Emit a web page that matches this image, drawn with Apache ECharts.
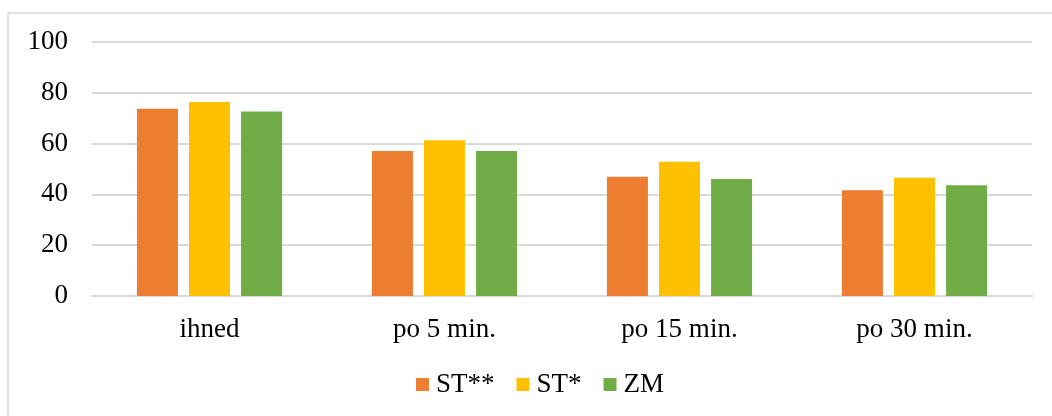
<!DOCTYPE html>
<html>
<head>
<meta charset="utf-8">
<script src="https://cdn.jsdelivr.net/npm/echarts@6/dist/echarts.min.js"></script>
<style>html,body{margin:0;padding:0;background:#fff;}#c{width:1052px;height:416px;}</style>
</head>
<body>
<div id="c"></div>
<script>
const categories = ['ihned', 'po 5 min.', 'po 15 min.', 'po 30 min.'];
const seriesNames = ['ST**', 'ST*', 'ZM'];
const st2 = [73.7, 57.1, 46.9, 41.6];
const st1 = [76.4, 61.3, 52.9, 46.6];
const zm = [72.6, 57.1, 46.1, 43.6];
const yTicks = [0, 20, 40, 60, 80, 100];
const colors = ['#ED7D31', '#FFC000', '#70AD47'];

const font = '"Liberation Serif", "Times New Roman", serif';
const chart = echarts.init(document.getElementById('c'), null, {renderer: 'canvas'});
const values = [st2, st1, zm];
chart.setOption({
  animation: false,
  backgroundColor: '#fff',
  color: colors,
  grid: {left: 92, right: 20, top: 42, bottom: 120},
  legend: {
    data: seriesNames,
    bottom: 13,
    left: 411,
    itemWidth: 13, itemHeight: 13, itemGap: 22,
    icon: 'rect',
    textStyle: {fontFamily: font, fontSize: 27, color: '#000', padding: [0, 0, 0, 2]}
  },
  xAxis: {
    type: 'category',
    data: categories,
    axisLine: {show: true, lineStyle: {color: '#d9d9d9', width: 2}},
    axisTick: {show: false},
    axisLabel: {fontFamily: font, fontSize: 27, color: '#000', margin: 20}
  },
  yAxis: {
    type: 'value',
    min: yTicks[0], max: yTicks[yTicks.length - 1], interval: 20,
    axisLine: {show: false},
    axisTick: {show: false},
    splitLine: {lineStyle: {color: '#d9d9d9', width: 2}},
    axisLabel: {fontFamily: font, fontSize: 27, color: '#000', margin: 24}
  },
  series: seriesNames.map((n, i) => ({
    name: n,
    type: 'bar',
    data: values[i],
    barWidth: 41,
    barGap: '27%',
    itemStyle: {color: colors[i]}
  })),
  graphic: [
    {type: 'line', shape: {x1: 8, y1: 13, x2: 1052, y2: 13}, style: {stroke: '#d9d9d9', lineWidth: 1.5}},
    {type: 'line', shape: {x1: 8, y1: 13, x2: 8, y2: 416}, style: {stroke: '#d9d9d9', lineWidth: 1.5}}
  ]
});
</script>
</body>
</html>
